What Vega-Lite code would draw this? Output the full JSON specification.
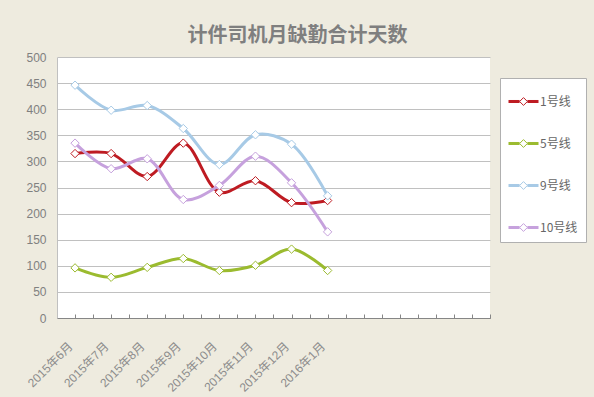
{
  "$schema": "https://vega.github.io/schema/vega-lite/v6.json",
  "width": 433,
  "height": 261,
  "autosize": {"type": "none"},
  "padding": {"left": 57, "top": 57, "right": 104, "bottom": 79},
  "background": "#EEEBDF",
  "title": {
    "text": "计件司机月缺勤合计天数",
    "fontSize": 20,
    "fontWeight": "bold",
    "color": "#7F7F7F",
    "font": "Noto Sans CJK SC",
    "anchor": "middle",
    "frame": "group",
    "dx": 24,
    "offset": 5
  },
  "data": {
    "values": [
      {"month": "2015年6月", "line": "1号线", "days": 315},
      {"month": "2015年7月", "line": "1号线", "days": 315},
      {"month": "2015年8月", "line": "1号线", "days": 271},
      {"month": "2015年9月", "line": "1号线", "days": 335},
      {"month": "2015年10月", "line": "1号线", "days": 241},
      {"month": "2015年11月", "line": "1号线", "days": 263},
      {"month": "2015年12月", "line": "1号线", "days": 221},
      {"month": "2016年1月", "line": "1号线", "days": 225},
      {"month": "2015年6月", "line": "5号线", "days": 96},
      {"month": "2015年7月", "line": "5号线", "days": 78},
      {"month": "2015年8月", "line": "5号线", "days": 97},
      {"month": "2015年9月", "line": "5号线", "days": 114},
      {"month": "2015年10月", "line": "5号线", "days": 91},
      {"month": "2015年11月", "line": "5号线", "days": 101},
      {"month": "2015年12月", "line": "5号线", "days": 132},
      {"month": "2016年1月", "line": "5号线", "days": 91},
      {"month": "2015年6月", "line": "9号线", "days": 446},
      {"month": "2015年7月", "line": "9号线", "days": 398},
      {"month": "2015年8月", "line": "9号线", "days": 407},
      {"month": "2015年9月", "line": "9号线", "days": 363},
      {"month": "2015年10月", "line": "9号线", "days": 294},
      {"month": "2015年11月", "line": "9号线", "days": 351},
      {"month": "2015年12月", "line": "9号线", "days": 333},
      {"month": "2016年1月", "line": "9号线", "days": 234},
      {"month": "2015年6月", "line": "10号线", "days": 335},
      {"month": "2015年7月", "line": "10号线", "days": 286},
      {"month": "2015年8月", "line": "10号线", "days": 305},
      {"month": "2015年9月", "line": "10号线", "days": 227},
      {"month": "2015年10月", "line": "10号线", "days": 254},
      {"month": "2015年11月", "line": "10号线", "days": 310},
      {"month": "2015年12月", "line": "10号线", "days": 259},
      {"month": "2016年1月", "line": "10号线", "days": 165}
    ]
  },
  "encoding": {
    "x": {
      "field": "month",
      "type": "ordinal",
      "scale": {
        "type": "point",
        "padding": 0.5,
        "domain": ["2015年6月", "2015年7月", "2015年8月", "2015年9月", "2015年10月", "2015年11月", "2015年12月", "2016年1月", "p9", "p10", "p11", "p12"]
      },
      "axis": null
    },
    "y": {
      "field": "days",
      "type": "quantitative",
      "scale": {"domain": [0, 500], "nice": false},
      "axis": {
        "title": null,
        "values": [0, 50, 100, 150, 200, 250, 300, 350, 400, 450, 500],
        "ticks": false,
        "labelPadding": 11,
        "labelFontSize": 12,
        "labelColor": "#808080",
        "labelFont": "Liberation Sans",
        "domainColor": "#C0C0C0",
        "gridColor": "#C0C0C0",
        "grid": true
      }
    }
  },
  "layer": [
    {
      "mark": {
        "type": "line",
        "interpolate": "catmull-rom",
        "strokeWidth": 3
      },
      "encoding": {
        "x": {
          "field": "month",
          "type": "ordinal",
          "axis": {
            "title": null,
            "orient": "bottom",
            "labelAngle": -45,
            "labelAlign": "right",
            "labelBaseline": "middle",
            "labelPadding": 30,
            "labelOffset": -5,
            "labelFontSize": 12,
            "labelColor": "#8C8C8C",
            "labelFont": "Liberation Sans, Noto Sans CJK SC",
            "labelExpr": "indexof(datum.label, '年') >= 0 ? datum.label : ''",
            "tickSize": -4,
            "tickColor": "#868686",
            "domainColor": "#868686",
            "grid": false
          }
        },
        "color": {
          "field": "line",
          "type": "nominal",
          "scale": {
            "domain": ["1号线", "5号线", "9号线", "10号线"],
            "range": ["#BE1B22", "#9BBB2F", "#A7CAE6", "#C6A1DD"]
          },
          "legend": {
            "orient": "none",
            "legendX": 443,
            "legendY": 21,
            "title": null,
            "fillColor": "white",
            "strokeColor": "#B0B0B0",
            "padding": 8,
            "rowPadding": 20,
            "symbolType": "M-1,-0.067L-0.26,-0.067M-1,0L-0.26,0M-1,0.067L-0.26,0.067M0.26,-0.067L1,-0.067M0.26,0L1,0M0.26,0.067L1,0.067M0,-0.26L0.26,0L0,0.26L-0.26,0Z",
            "symbolSize": 900,
            "symbolStrokeWidth": 1,
            "symbolFillColor": "white",
            "labelFontSize": 12,
            "labelColor": "#666666",
            "labelFont": "Noto Sans CJK SC",
            "labelOffset": 1
          }
        }
      }
    },
    {
      "mark": {"type": "point", "shape": "diamond", "filled": true, "fill": "white", "size": 70, "strokeWidth": 1, "opacity": 1},
      "encoding": {
        "stroke": {
          "field": "line",
          "type": "nominal",
          "scale": {
            "domain": ["1号线", "5号线", "9号线", "10号线"],
            "range": ["#BE1B22", "#9BBB2F", "#A7CAE6", "#C6A1DD"]
          },
          "legend": null
        }
      }
    },
    {
      "mark": {"type": "line", "opacity": 0},
      "encoding": {
        "x": {
          "field": "month",
          "type": "ordinal",
          "axis": {
            "title": null,
            "orient": "bottom",
            "labels": false,
            "tickOffset": 18,
            "tickSize": -4,
            "tickColor": "#868686",
            "domainColor": "#868686",
            "grid": false
          }
        }
      }
    }
  ],
  "resolve": {"axis": {"x": "independent"}},
  "config": {
    "view": {"fill": "white", "stroke": null}
  }
}
